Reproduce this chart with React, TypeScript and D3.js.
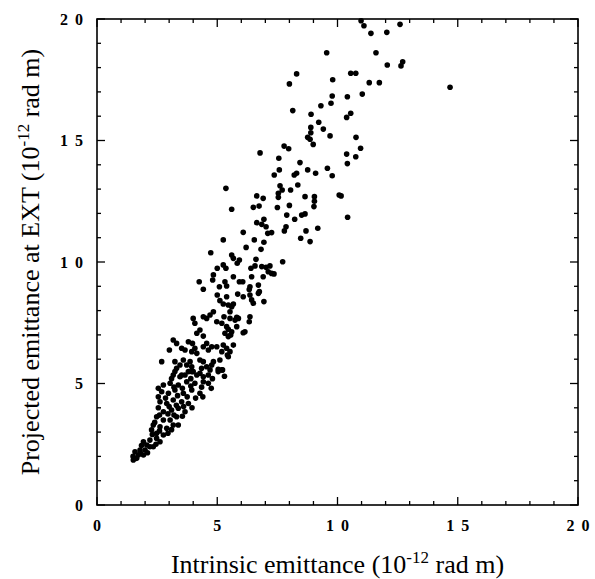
import React from 'react';
import * as d3 from 'd3';

// points, [intrinsic, projected] in 1e-12 rad m
const topPoints: [number, number][] = [
  [10.98, 19.93], [11.1, 19.72], [11.39, 19.41], [12.05, 19.45], [12.6, 19.78],
  [9.55, 18.61], [11.6, 18.61], [14.68, 17.19],
  [8.3, 17.74], [8.0, 17.33], [9.8, 17.5], [10.55, 17.77], [10.76, 17.77],
  [11.32, 17.38], [11.74, 17.38], [12.07, 18.11], [12.64, 18.07], [12.71, 18.24],
  [9.78, 16.83], [10.41, 16.8], [11.03, 16.91], [9.73, 16.53], [9.31, 16.43],
  [8.14, 16.23], [8.9, 16.08], [10.55, 16.12], [10.38, 15.95], [9.22, 15.75],
  [9.41, 15.47], [8.89, 15.54], [8.89, 15.32], [8.76, 15.13], [8.86, 15.05],
  [8.99, 14.84], [9.69, 15.19], [10.77, 15.13], [7.78, 14.77], [7.97, 14.66],
  [10.96, 14.68], [10.38, 14.44], [10.76, 14.33], [10.41, 14.05], [7.56, 14.27],
  [8.44, 14.09], [7.58, 13.79], [7.37, 13.58], [8.76, 13.79], [9.09, 13.65],
  [9.58, 13.86], [9.78, 13.55], [8.2, 13.58], [8.3, 13.65], [7.61, 13.14],
  [7.7, 12.96], [7.54, 12.83], [7.54, 12.66], [8.05, 12.96], [8.35, 13.17],
  [8.65, 12.69], [9.04, 12.69], [10.07, 12.76], [6.78, 14.49], [6.91, 12.62],
];

const upperCluster: [number, number][] = [
  [5.36, 13.03], [6.64, 12.72], [9.04, 12.5], [10.15, 12.72], [10.42, 11.84],
  [5.6, 12.17], [6.5, 12.25], [6.74, 12.3], [7.5, 12.24], [8.0, 12.33],
  [9.02, 12.28], [7.89, 11.93], [8.51, 11.93], [8.65, 11.98], [8.22, 11.76],
  [6.94, 11.76], [6.64, 11.62], [6.85, 11.55], [7.03, 11.45], [7.86, 11.45],
  [7.79, 11.28], [7.26, 11.21], [7.1, 11.18], [9.18, 11.39], [8.69, 11.28],
  [6.08, 11.22], [8.47, 10.98], [8.86, 10.84], [5.25, 10.91], [6.54, 10.91],
  [6.94, 10.81], [6.82, 10.52], [6.2, 10.6], [4.73, 10.38], [5.6, 10.29],
  [5.67, 10.15], [5.92, 10.08], [5.83, 9.95], [5.25, 9.88], [5.36, 9.74],
  [5.0, 9.74], [4.84, 9.47], [4.81, 9.26], [6.61, 10.11], [6.57, 9.84],
  [6.4, 9.74], [6.43, 9.39], [6.85, 9.81], [7.03, 9.78], [7.19, 9.84],
  [7.12, 9.6], [7.26, 9.53], [7.72, 10.01], [7.36, 9.51], [6.91, 9.39],
  [5.67, 9.39], [4.25, 9.19], [5.09, 8.98], [5.32, 9.19], [5.39, 9.01],
  [5.92, 9.19], [6.06, 9.19], [6.36, 8.98], [6.71, 9.05], [4.42, 8.88],
];

const midCluster: [number, number][] = [
  [5.0, 8.64], [5.39, 8.57], [5.85, 8.68], [6.08, 8.57], [6.36, 8.64],
  [6.43, 8.44], [6.71, 8.71], [6.94, 8.37], [6.5, 8.3], [5.11, 8.41],
  [5.25, 8.27], [5.46, 8.23], [5.6, 8.16], [5.53, 7.95], [4.84, 7.95],
  [4.7, 7.82], [4.56, 7.68], [4.42, 7.75], [4.0, 7.68], [4.07, 7.48],
  [4.98, 7.54], [5.19, 7.48], [5.28, 7.75], [5.53, 7.68], [5.74, 7.61],
  [5.81, 7.72], [6.36, 7.75], [6.33, 7.54], [5.81, 7.34], [5.46, 7.23],
  [5.6, 7.13], [5.56, 7.0], [6.08, 7.09], [4.28, 7.2], [4.15, 7.07],
  [4.42, 6.95], [3.17, 6.79], [3.31, 6.65], [3.8, 6.72], [3.01, 6.38],
  [3.52, 6.45], [3.66, 6.38], [3.97, 6.65], [4.07, 6.45], [3.94, 6.31],
  [4.15, 6.24], [4.42, 6.51], [4.56, 6.65], [4.63, 6.38], [4.77, 6.51],
  [4.98, 6.51], [5.25, 6.58], [5.39, 6.45], [5.53, 6.31], [5.46, 6.1],
  [6.33, 8.87], [6.75, 8.78], [5.67, 8.27], [5.88, 7.68], [5.39, 7.34],
  [5.32, 7.07], [5.46, 6.93], [6.15, 7.13], [5.67, 6.58], [5.42, 6.17],
  [5.19, 6.31], [5.11, 5.97], [5.22, 5.56],
];

const lowerCluster: [number, number][] = [
  [2.69, 5.9], [3.24, 5.9], [3.31, 5.63], [3.45, 5.76], [3.59, 5.97],
  [3.73, 5.76], [3.87, 5.9], [3.94, 5.69], [4.0, 5.49], [3.8, 5.49],
  [4.28, 5.97], [4.42, 5.9], [4.35, 5.63], [4.56, 5.69], [4.84, 5.9],
  [4.77, 5.76], [4.7, 5.56], [5.04, 5.58], [5.19, 5.56], [3.17, 5.35],
  [3.45, 5.28], [3.66, 5.35], [4.15, 5.35], [4.42, 5.28],
  [3.24, 5.49], [3.52, 5.35], [3.94, 5.49], [4.28, 5.42], [4.63, 5.35],
  [5.04, 5.49], [2.76, 4.94], [3.04, 5.01], [3.38, 4.94], [3.73, 5.07],
  [4.07, 5.01], [4.42, 5.07], [4.63, 5.01], [2.69, 4.66], [2.97, 4.6],
  [3.24, 4.73], [3.59, 4.6], [3.94, 4.73], [4.28, 4.6], [2.62, 4.25],
  [2.9, 4.18], [3.17, 4.32], [3.52, 4.25], [3.8, 4.18], [2.76, 3.84],
  [3.1, 3.91], [3.38, 3.98], [3.66, 3.84], [3.31, 3.63], [2.48, 3.63],
  [2.76, 3.5], [3.04, 3.5], [2.34, 3.29], [2.62, 3.22], [2.9, 3.16],
  [3.17, 3.29], [3.38, 3.29], [2.27, 3.09], [2.48, 2.95], [2.76, 2.88],
  [2.2, 2.67], [2.48, 2.74], [2.62, 2.6], [1.93, 2.6], [2.07, 2.47],
  [2.34, 2.4], [1.79, 2.26], [2.0, 2.26], [2.2, 2.4], [1.58, 2.19],
  [1.72, 2.06], [1.93, 2.06], [1.51, 1.85], [1.65, 1.92],
];

// points hidden inside the solid black part of the lower cluster
const denseCore: [number, number][] = [
  [3.1, 5.2], [3.9, 5.2], [4.8, 5.2], [5.3, 5.3],
  [2.55, 4.8], [3.2, 4.85], [3.55, 4.8], [3.9, 4.9], [4.35, 4.85], [4.75, 4.8],
  [2.55, 4.45], [2.85, 4.4], [3.35, 4.5], [3.75, 4.45], [4.1, 4.4], [4.4, 4.45],
  [2.55, 4.0], [3.0, 4.05], [3.3, 4.1], [3.6, 4.05], [3.95, 4.0],
  [2.4, 3.4], [2.6, 3.7], [2.95, 3.75], [3.2, 3.7], [3.55, 3.65],
  [2.3, 2.9], [2.6, 3.05], [2.95, 2.95], [3.1, 3.1],
  [1.85, 2.45], [2.45, 2.5], [1.5, 2.0], [1.8, 2.15], [2.1, 2.15],
];

const tickValues = d3.range(0, 21);
const labelValues = [0, 5, 10, 15, 20];

const W = 595;
const H = 579;
const plot = { left: 97, right: 578, top: 19, bottom: 505 };

const App = () => {
  const x = d3.scaleLinear().domain([0, 20]).range([plot.left, plot.right]);
  const y = d3.scaleLinear().domain([0, 20]).range([plot.bottom, plot.top]);

  const points = [...topPoints, ...upperCluster, ...midCluster, ...lowerCluster, ...denseCore];
  const tickLen = (v: number) => (v % 5 === 0 ? 8 : 4);
  const serif = '"Liberation Serif", "Times New Roman", serif';
  const spacing = 7;

  return (
    <svg width={W} height={H} style={{ position: 'absolute', left: 0, top: 0, background: '#fff' }}>
      {/* data */}
      <g>
        {points.map((d, i) => (
          <circle key={i} cx={x(d[0])} cy={y(d[1])} r={2.8} fill="#000" />
        ))}
      </g>

      {/* frame */}
      <rect
        x={plot.left}
        y={plot.top}
        width={plot.right - plot.left}
        height={plot.bottom - plot.top}
        fill="none"
        stroke="#000"
        strokeWidth={1.6}
      />

      {/* ticks, all pointing inward */}
      <g stroke="#000" strokeWidth={1.3}>
        {tickValues.map((v) => (
          <g key={v}>
            <line x1={x(v)} x2={x(v)} y1={plot.bottom} y2={plot.bottom - tickLen(v)} />
            <line x1={x(v)} x2={x(v)} y1={plot.top} y2={plot.top + tickLen(v)} />
            <line x1={plot.left} x2={plot.left + tickLen(v)} y1={y(v)} y2={y(v)} />
            <line x1={plot.right} x2={plot.right - tickLen(v)} y1={y(v)} y2={y(v)} />
          </g>
        ))}
      </g>

      {/* tick labels */}
      <g fontFamily={serif} fontWeight="bold" fontSize={16} fill="#000">
        {labelValues.map((v) => (
          <text
            key={'x' + v}
            x={x(v) + spacing / 2}
            y={plot.bottom + 26}
            textAnchor="middle"
            letterSpacing={spacing}
          >
            {v}
          </text>
        ))}
        {labelValues.map((v) => (
          <text
            key={'y' + v}
            x={plot.left - 14 + spacing}
            y={y(v)}
            textAnchor="end"
            dominantBaseline="central"
            letterSpacing={spacing}
          >
            {v}
          </text>
        ))}
      </g>

      {/* axis titles */}
      <text
        x={(plot.left + plot.right) / 2}
        y={573}
        textAnchor="middle"
        fontFamily={serif}
        fontSize={26}
        fill="#000"
      >
        Intrinsic emittance (10
        <tspan dy={-10} fontSize={17}>-12</tspan>
        <tspan dy={10}> rad m)</tspan>
      </text>
      <text
        transform={`translate(39, ${(plot.top + plot.bottom) / 2}) rotate(-90)`}
        textAnchor="middle"
        fontFamily={serif}
        fontSize={26}
        fill="#000"
      >
        Projected emittance at EXT (10
        <tspan dy={-10} fontSize={17}>-12</tspan>
        <tspan dy={10}> rad m)</tspan>
      </text>
    </svg>
  );
};

export default App;
